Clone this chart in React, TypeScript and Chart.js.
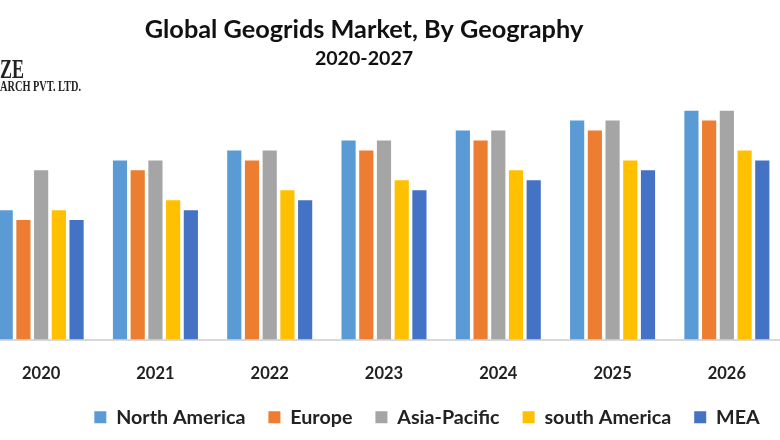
import React, { useEffect, useRef } from "react";
import { Chart, registerables } from "chart.js";

Chart.register(...registerables);

const years = ["2020", "2021", "2022", "2023", "2024", "2025", "2026"];
const northAmerica = [13, 18, 19, 20, 21, 22, 23];
const europe = [12, 17, 18, 19, 20, 21, 22];
const asiaPacific = [17, 18, 19, 20, 21, 22, 23];
const southAmerica = [13, 14, 15, 16, 17, 18, 19];
const mea = [12, 13, 14, 15, 16, 17, 18];

const titleText = "Global Geogrids Market, By Geography";
const subtitleText = "2020-2027";

const shiftBlocks = {
  id: "shiftBlocks",
  afterLayout(chart: any) {
    for (const box of chart.boxes) {
      if (box === chart.legend) {
        box.left += 43;
        box.right += 43;
      } else if (box.position === "top") {
        box.left -= 20;
        box.right -= 20;
      }
    }
  },
};

const logoText = {
  id: "logoText",
  afterDraw(chart: any) {
    const ctx = chart.ctx;
    ctx.save();
    ctx.fillStyle = "#222222";
    ctx.textBaseline = "alphabetic";
    ctx.textAlign = "left";
    ctx.font = "bold 28px 'Liberation Serif'";
    ctx.fillText("ZE", 16, 78, 24);
    ctx.font = "bold 14px 'Liberation Serif'";
    ctx.fillText("ARCH PVT. LTD.", 16, 91, 81);
    ctx.restore();
  },
};

export default function App() {
  const ref = useRef<HTMLCanvasElement>(null);
  useEffect(() => {
    const mk = (label: string, data: number[], color: string) => ({
      label,
      data,
      backgroundColor: color,
      borderWidth: 0,
      categoryPercentage: 0.775,
      barPercentage: 0.8,
    });
    const chart = new Chart(ref.current!, {
      type: "bar",
      data: {
        labels: years,
        datasets: [
          mk("North America", northAmerica, "#5B9BD5"),
          mk("Europe", europe, "#ED7D31"),
          mk("Asia-Pacific", asiaPacific, "#A5A5A5"),
          mk("south America", southAmerica, "#FFC000"),
          mk("MEA", mea, "#4472C4"),
        ],
      },
      options: {
        responsive: false,
        animation: false,
        devicePixelRatio: 1,
        layout: { padding: { top: 0, bottom: 3, left: 0, right: 0 } },
        scales: {
          x: {
            grid: { display: false },
            border: { color: "#D9D9D9", width: 2 },
            afterFit(scale: any) {
              scale.height -= 15;
            },
            ticks: {
              color: "#222222",
              padding: 16,
              font: { family: "Lato", weight: "bold", size: 16.5 },
              maxRotation: 0,
            },
          },
          y: { display: false, min: 0, max: 27 },
        },
        plugins: {
          tooltip: { enabled: false },
          title: {
            display: true,
            text: titleText,
            color: "#111111",
            font: { family: "Lato", weight: "bold", size: 25.3 },
            padding: { top: 15, bottom: 0 },
          },
          subtitle: {
            display: true,
            text: subtitleText,
            color: "#111111",
            font: { family: "Lato", weight: "bold", size: 19.6 },
            padding: { top: 2, bottom: 0 },
          },
          legend: {
            position: "bottom",
            labels: {
              color: "#222222",
              boxWidth: 12,
              boxHeight: 12,
              padding: 23,
              font: { family: "Lato", weight: "bold", size: 19.7 },
            },
          },
        },
      },
      plugins: [shiftBlocks, logoText],
    } as any);
    return () => chart.destroy();
  }, []);
  return (
    <div style={{ position: "fixed", left: 0, top: 0, width: 780, height: 440, overflow: "hidden", background: "#fff" }}>
      <canvas ref={ref} width={800} height={440} style={{ position: "absolute", left: -16, top: 0 }} />
    </div>
  );
}
